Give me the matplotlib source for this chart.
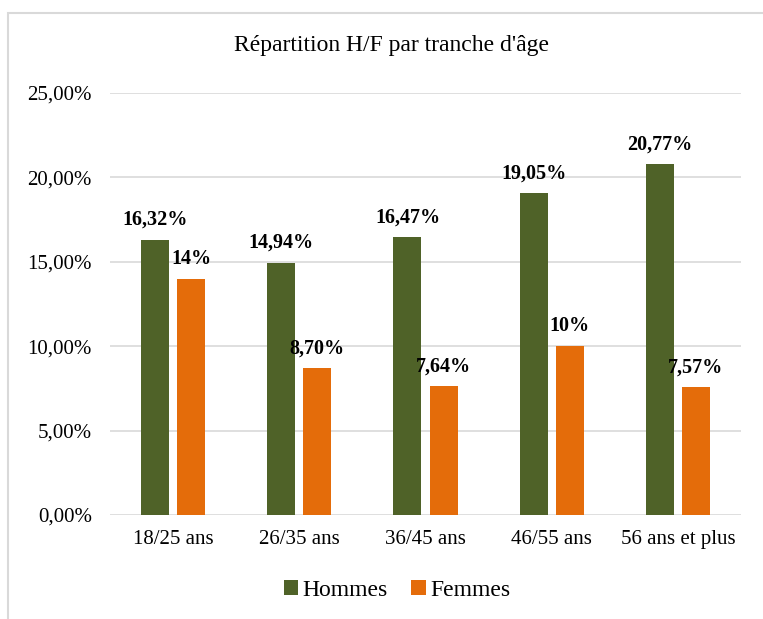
import matplotlib
matplotlib.use("Agg")
import matplotlib.pyplot as plt
from matplotlib.patches import Rectangle
from matplotlib.ticker import FuncFormatter
import numpy as np

plt.rcParams["font.family"] = ["Liberation Serif", "DejaVu Serif"]

tranches = ["18/25 ans", "26/35 ans", "36/45 ans", "46/55 ans", "56 ans et plus"]
hommes = [16.32, 14.94, 16.47, 19.05, 20.77]
femmes = [14.0, 8.70, 7.64, 10.0, 7.57]
labels_h = ["16,32%", "14,94%", "16,47%", "19,05%", "20,77%"]
labels_f = ["14%", "8,70%", "7,64%", "10%", "7,57%"]

vert = "#4F6228"
orange = "#E46C0A"
gris = "#D9D9D9"

fig = plt.figure(figsize=(7.63, 6.19), dpi=100)
ax = fig.add_axes([110 / 763, 1 - 515 / 619, 631 / 763, 422 / 619])

x = np.arange(len(tranches))
w = 0.222
off = 0.143
b1 = ax.bar(x - off, hommes, w, color=vert, label="Hommes", zorder=3)
b2 = ax.bar(x + off, femmes, w, color=orange, label="Femmes", zorder=3)

for bars, labs in ((b1, labels_h), (b2, labels_f)):
    for rect, lab in zip(bars, labs):
        ax.annotate(lab, (rect.get_x() + rect.get_width() / 2, rect.get_height()),
                    xytext=(0, 7), textcoords="offset points",
                    ha="center", va="bottom", fontsize=14.5, fontweight="bold")

ax.set_xlim(-0.5, len(tranches) - 0.5)
ax.set_ylim(0, 25)
ax.set_yticks(np.arange(0, 26, 5))
ax.yaxis.set_major_formatter(FuncFormatter(lambda v, p: f"{v:.2f}%".replace(".", ",")))
ax.set_xticks(x)
ax.set_xticklabels(tranches)
ax.grid(axis="y", color=gris, linewidth=1.2, zorder=0)
ax.set_axisbelow(True)
for s in ax.spines.values():
    s.set_visible(False)
ax.tick_params(axis="both", length=0, labelsize=15)
ax.tick_params(axis="y", pad=13)
ax.tick_params(axis="x", pad=11)

fig.text(392 / 763, 1 - 45 / 619, "Répartition H/F par tranche d'âge",
         ha="center", va="center", fontsize=17)

fig.legend(loc="center", bbox_to_anchor=(397 / 763, 1 - 590 / 619), ncol=2,
           frameon=False, fontsize=17, handlelength=0.6, handleheight=0.6,
           handletextpad=0.2, columnspacing=1.0)

fig.patches.append(Rectangle((8 / 763, -0.1), 2, 1 - 13 / 619 + 0.1,
                             transform=fig.transFigure, fill=False,
                             edgecolor=gris, linewidth=1.5))

fig.savefig("out.png", dpi=100)
